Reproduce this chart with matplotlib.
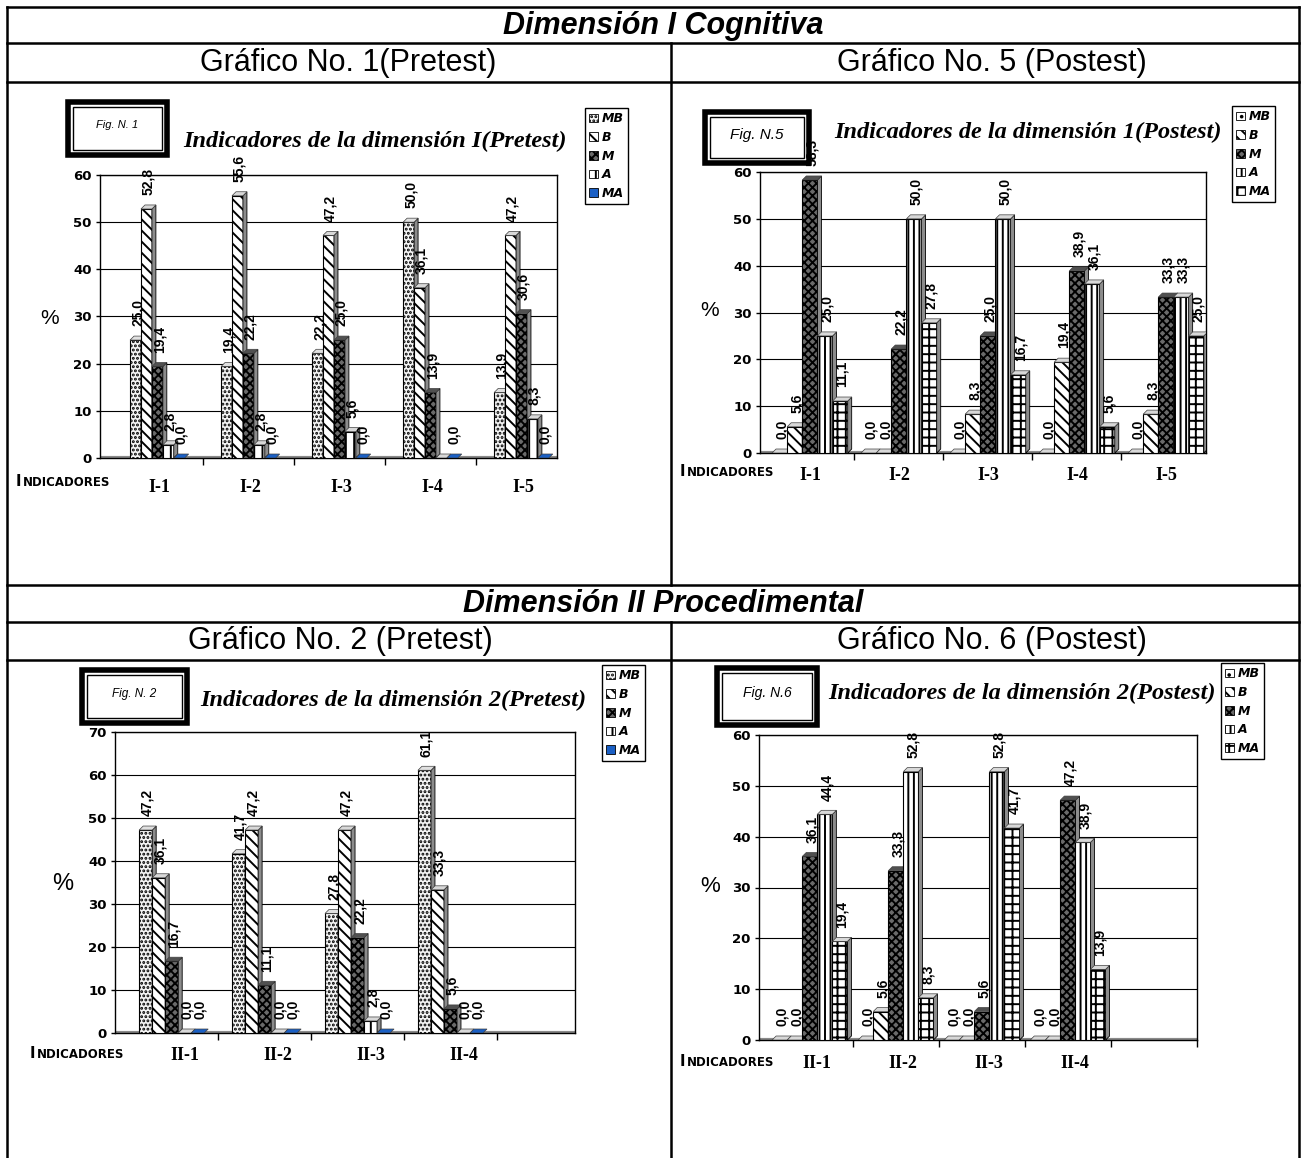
import matplotlib
matplotlib.use("Agg")
import matplotlib.pyplot as plt
from matplotlib.patches import Rectangle, Polygon, Patch
from matplotlib.lines import Line2D

W, H = 1304, 1158
plt.rcParams['hatch.linewidth'] = 1.4
plt.rcParams['font.family'] = ['Liberation Sans', 'DejaVu Sans']

# ---------------- data ----------------
series = ['MB', 'B', 'M', 'A', 'MA']
dim1_cats = ['I-1', 'I-2', 'I-3', 'I-4', 'I-5']
dim2_cats = ['II-1', 'II-2', 'II-3', 'II-4']

# Gráfico No. 1 (Pretest), dimensión I
g1_mb = [25.0, 19.4, 22.2, 50.0, 13.9]
g1_b = [52.8, 55.6, 47.2, 36.1, 47.2]
g1_m = [19.4, 22.2, 25.0, 13.9, 30.6]
g1_a = [2.8, 2.8, 5.6, 0.0, 8.3]
g1_ma = [0.0, 0.0, 0.0, 0.0, 0.0]

# Gráfico No. 5 (Postest), dimensión I
g5_mb = [0.0, 0.0, 0.0, 0.0, 0.0]
g5_b = [5.6, 0.0, 8.3, 19.4, 8.3]
g5_m = [58.3, 22.2, 25.0, 38.9, 33.3]
g5_a = [25.0, 50.0, 50.0, 36.1, 33.3]
g5_ma = [11.1, 27.8, 16.7, 5.6, 25.0]

# Gráfico No. 2 (Pretest), dimensión II
g2_mb = [47.2, 41.7, 27.8, 61.1]
g2_b = [36.1, 47.2, 47.2, 33.3]
g2_m = [16.7, 11.1, 22.2, 5.6]
g2_a = [0.0, 0.0, 2.8, 0.0]
g2_ma = [0.0, 0.0, 0.0, 0.0]

# Gráfico No. 6 (Postest), dimensión II
g6_mb = [0.0, 0.0, 0.0, 0.0]
g6_b = [0.0, 5.6, 0.0, 0.0]
g6_m = [36.1, 33.3, 5.6, 47.2]
g6_a = [44.4, 52.8, 52.8, 38.9]
g6_ma = [19.4, 8.3, 41.7, 13.9]

# ---------------- styles ----------------
pre_styles = [
    dict(fc='#f4f4f4', hatch='....', top='#e0e0e0'),
    dict(fc='white', hatch='\\\\\\', top='#d8d8d8'),
    dict(fc='#6a6a6a', hatch='xxxx', top='#505050'),
    dict(fc='white', hatch='||', top='#d8d8d8'),
    dict(fc='#1a5fc4', hatch='', top='#1a5fc4'),
]
post_styles = [
    dict(fc='white', hatch='..', top='#d8d8d8'),
    dict(fc='white', hatch='\\\\\\', top='#d8d8d8'),
    dict(fc='#6a6a6a', hatch='xxxx', top='#505050'),
    dict(fc='white', hatch='|||', top='#d8d8d8'),
    dict(fc='white', hatch='++', top='#d8d8d8'),
]

fig = plt.figure(figsize=(W / 100, H / 100), dpi=100)
fig.patch.set_facecolor('white')


def fx(x):
    return x / W


def fy(y):
    return 1 - y / H


def fmt(v):
    return f"{v:.1f}".replace('.', ',')


# ---------------- table frame ----------------
def hline(y, x0=7, x1=1299, lw=1.8):
    fig.add_artist(Line2D([fx(x0), fx(x1)], [fy(y), fy(y)], color='black', lw=lw))


def vline(x, y0, y1, lw=1.8):
    fig.add_artist(Line2D([fx(x), fx(x)], [fy(y0), fy(y1)], color='black', lw=lw))


for yy in (7, 43, 82, 585, 622, 660):
    hline(yy)
vline(7, 7, 1158)
vline(1299, 7, 1158)
vline(671, 43, 585)
vline(671, 622, 1158)

head_kw = dict(ha='center', va='center', fontsize=22, family=['Liberation Sans', 'DejaVu Sans'])
fig.text(fx(663), fy(26), 'Dimensión I Cognitiva', fontweight='bold', style='italic', **head_kw)
fig.text(fx(348), fy(63), 'Gráfico No. 1(Pretest)', **head_kw)
fig.text(fx(992), fy(63), 'Gráfico No. 5 (Postest)', **head_kw)
fig.text(fx(663), fy(604), 'Dimensión II Procedimental', fontweight='bold', style='italic', **head_kw)
fig.text(fx(340), fy(641), 'Gráfico No. 2 (Pretest)', **head_kw)
fig.text(fx(992), fy(641), 'Gráfico No. 6 (Postest)', **head_kw)


def figbox(x0, y0, x1, y1, label, size):
    fig.add_artist(Rectangle((fx(x0), fy(y1)), (x1 - x0) / W, (y1 - y0) / H,
                             transform=fig.transFigure, fill=False, lw=4, edgecolor='black'))
    i = 5
    fig.add_artist(Rectangle((fx(x0 + i), fy(y1 - i)), (x1 - x0 - 2 * i) / W, (y1 - y0 - 2 * i) / H,
                             transform=fig.transFigure, fill=False, lw=1, edgecolor='black'))
    fig.text(fx((x0 + x1) / 2), fy((y0 + y1) / 2 - 3), label, ha='center', va='center',
             fontsize=size, style='italic')


def draw(box, cats, vals, styles, ymax, xlim, width, hide, cat_shift, cat_y,
         title, title_xy, tag, tag_box, tag_size, leg_xy, pct_xy, pct_size, ind_xy):
    l, t, r, b = box
    ax = fig.add_axes([fx(l), fy(b), (r - l) / W, (b - t) / H])
    ax.set_xlim(*xlim)
    ax.set_ylim(0, ymax)
    slot_px = (r - l) / (xlim[1] - xlim[0])
    dx = 4 / slot_px
    dy = 4 * ymax / (b - t)
    n = len(vals)
    for i, (sv, st) in enumerate(zip(vals, styles)):
        for j, v in enumerate(sv):
            x0 = j + (i - (n - 1) / 2) * width - width / 2
            z = 3 + i * 0.01
            if v > 0:
                ax.add_patch(Rectangle((x0, 0), width, v, facecolor=st['fc'], hatch=st['hatch'],
                                       edgecolor='black', lw=0.8, zorder=z))
                ax.add_patch(Polygon([(x0 + width, 0), (x0 + width + dx, dy),
                                      (x0 + width + dx, v + dy), (x0 + width, v)],
                                     closed=True, facecolor='#8c8c8c', edgecolor='black',
                                     lw=0.6, zorder=z))
            ax.add_patch(Polygon([(x0, v), (x0 + dx, v + dy), (x0 + width + dx, v + dy),
                                  (x0 + width, v)], closed=True, facecolor=st['top'],
                                 edgecolor='#404040', lw=0.5, zorder=z))
            if (i, j) not in hide:
                ax.annotate(fmt(v), (x0 + width / 2 + dx / 2, v + dy), xytext=(0, 7),
                            textcoords='offset points', rotation=90, ha='center',
                            va='bottom', fontsize=10, fontweight='bold', zorder=5,
                            annotation_clip=False)
    ax.axhline(0, color='#8a8a8a', lw=3, zorder=2.5)
    ax.set_yticks(range(0, ymax + 1, 10))
    ax.yaxis.grid(True, color='black', lw=0.8)
    ax.set_axisbelow(True)
    ax.set_xticks([])
    ax.set_xticks([k + 0.5 for k in range(int(xlim[1] + 0.5))], minor=True)
    ax.tick_params(axis='x', which='minor', length=5, width=1, labelbottom=False)
    ax.tick_params(axis='y', length=3, width=1, pad=3)
    for lab in ax.get_yticklabels():
        lab.set_fontfamily('DejaVu Sans')
        lab.set_fontweight('bold')
        lab.set_fontsize(9.5)
    for s in ax.spines.values():
        s.set_color('black')
        s.set_linewidth(1.0)

    for j, c in enumerate(cats):
        xp = l + (j + cat_shift - xlim[0]) * slot_px
        fig.text(fx(xp), fy(cat_y), c, ha='center', va='center', fontsize=13,
                 fontweight='bold', family='Liberation Serif')

    fig.text(fx(title_xy[0]), fy(title_xy[1]), title, ha='center', va='center',
             fontsize=17.5, fontweight='bold', style='italic', family='Liberation Serif')
    figbox(*tag_box, tag, tag_size)

    handles = [Patch(facecolor=st['fc'], hatch=st['hatch'], edgecolor='black', lw=0.6)
               for st in styles]
    fig.legend(handles, series, loc='upper left', bbox_to_anchor=(fx(leg_xy[0]), fy(leg_xy[1])),
               bbox_transform=fig.transFigure, borderaxespad=0, fancybox=False,
               edgecolor='black', framealpha=1, handlelength=0.7, handleheight=0.7,
               handletextpad=0.3, labelspacing=0.45, borderpad=0.35,
               prop=dict(family='DejaVu Sans', weight='bold', style='italic', size=9))

    fig.text(fx(pct_xy[0]), fy(pct_xy[1]), '%', ha='center', va='center', fontsize=pct_size)
    t1 = fig.text(fx(ind_xy[0]), fy(ind_xy[1]), 'I', ha='left', va='baseline', fontsize=10.5,
                  fontweight='bold', family='DejaVu Sans')
    ax.annotate('NDICADORES', xy=(1, 0), xycoords=t1, xytext=(1, 0), textcoords='offset points',
                ha='left', va='bottom', fontsize=8.5, fontweight='bold', family='DejaVu Sans',
                annotation_clip=False)
    return ax


# ---------------- panels ----------------
draw((100, 175, 557, 458), dim1_cats, [g1_mb, g1_b, g1_m, g1_a, g1_ma], pre_styles,
     60, (-0.63, 4.39), 0.12, {(3, 3)}, 0.02, 487,
     'Indicadores de la dimensión I(Pretest)', (375, 141), 'Fig. N. 1', (68, 102, 167, 155), 8,
     (585, 108), (50, 318), 15, (16, 486))

draw((760, 172, 1206, 453), dim1_cats, [g5_mb, g5_b, g5_m, g5_a, g5_ma], post_styles,
     60, (-0.56, 4.45), 0.17, set(), 0.0, 476,
     'Indicadores de la dimensión 1(Postest)', (1028, 132), 'Fig. N.5', (705, 112, 809, 163), 11,
     (1232, 106), (710, 311), 15, (680, 476))

draw((115, 732, 575, 1033), dim2_cats, [g2_mb, g2_b, g2_m, g2_a, g2_ma], pre_styles,
     70, (-0.61, 4.34), 0.14, set(), 0.14, 1056,
     'Indicadores de la dimensión 2(Pretest)', (393, 700), 'Fig. N. 2', (82, 670, 187, 723), 8.5,
     (602, 665), (63, 884), 17, (30, 1058))

draw((759, 735, 1197, 1040), dim2_cats, [g6_mb, g6_b, g6_m, g6_a, g6_ma], post_styles,
     60, (-0.59, 4.5), 0.175, set(), 0.08, 1064,
     'Indicadores de la dimensión 2(Postest)', (1022, 693), 'Fig. N.6', (717, 668, 817, 725), 10,
     (1221, 663), (710, 887), 16, (680, 1066))

fig.savefig('out.png', dpi=100)
